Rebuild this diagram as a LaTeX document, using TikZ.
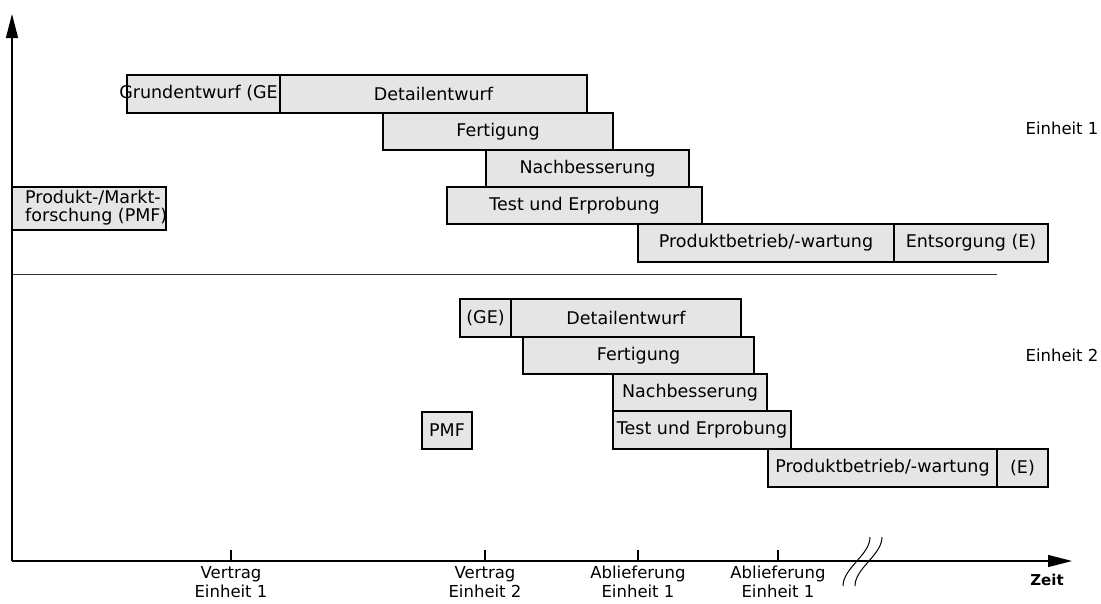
\documentclass[tikz,border=0pt]{standalone}
\usepackage{fontspec}
\setmainfont{DejaVu Sans}
\usetikzlibrary{arrows.meta,calc}
\tikzset{
  gbox/.style={draw=black, line width=1.2pt, fill=gray!20, inner sep=0pt},
  btxt/.style={inner sep=0pt, font=\fontsize{17.5}{18}\selectfont},
  axis/.style={line width=1.2pt, -{Triangle[length=24pt,width=12pt]}},
  tick/.style={line width=1.2pt},
  lbl/.style={inner sep=0pt, align=center, anchor=north, font=\fontsize{16.5}{19}\selectfont},
}
\newcommand\gbox[6]{%
  \node[gbox, minimum width={#4-#2}, minimum height={#5-#3}] (#1) at ({(#2+#4)/2},{(#3+#5)/2}) {};
  \node[btxt] (#1t) at (#1) {#6};}
\begin{document}
\begin{tikzpicture}[x=1pt,y=-1pt]
\useasboundingbox (0,0) rectangle (1101,603);
% Einheit 1
\gbox{ge}{127}{75}{280}{113}{}
\gbox{de}{280}{75}{587}{113}{Detailentwurf}
\gbox{fe}{383}{113}{613}{150}{Fertigung}
\gbox{na}{486}{150}{689}{187}{Nachbesserung}
\gbox{te}{447}{187}{702}{224}{Test und Erprobung}
\gbox{pb}{638}{224}{894}{262}{Produktbetrieb/-wartung}
\gbox{en}{894}{224}{1048}{262}{Entsorgung (E)}
\gbox{pmf}{12}{187}{166}{230}{}
\node[btxt, anchor=east] (get) at (278,93) {Grundentwurf (GE};
\node[btxt, align=left, anchor=west, font=\fontsize{17.5}{18}\selectfont] (pmft) at (25,208) {Produkt-/Markt-\\forschung (PMF)};
\node[btxt, font=\fontsize{16.5}{18}\selectfont] (e1) at (1062,128) {Einheit 1};
% separator
\coordinate (s1) at (12,274);
\coordinate (s2) at (997,274);
\draw[line width=0.8pt, black!80] (s1) -- (s2);
% Einheit 2
\gbox{ge2}{460}{299}{511}{337}{(GE)}
\gbox{de2}{511}{299}{741}{337}{Detailentwurf}
\gbox{fe2}{523}{337}{754}{374}{Fertigung}
\gbox{na2}{613}{374}{767}{411}{Nachbesserung}
\gbox{te2}{613}{411}{791}{449}{Test und Erprobung}
\gbox{pmf2}{422}{412}{472}{449}{PMF}
\gbox{pb2}{768}{449}{997}{487}{Produktbetrieb/-wartung}
\gbox{en2}{997}{449}{1048}{487}{(E)}
\node[btxt, font=\fontsize{16.5}{18}\selectfont] (e2) at (1062,355) {Einheit 2};
% axes
\coordinate (o) at (12,561);
\coordinate (yt) at (12,14);
\coordinate (xt) at (1072,561);
\draw[axis] (o) -- (yt);
\draw[axis] (o) -- (xt);
% ticks and labels
\foreach \n/\x/\t in {t1/231/{Vertrag\\Einheit 1}, t2/485/{Vertrag\\Einheit 2}, t3/638/{Ablieferung\\Einheit 1}, t4/778/{Ablieferung\\Einheit 1}}{
  \coordinate (\n) at (\x,561);
  \draw[tick] (\n) -- ++(0,-11);
  \node[lbl] (\n l) at (\x,566) {\t};
}
% axis break
\coordinate (b1a) at (843,586); \coordinate (b1b) at (870,537);
\coordinate (b2a) at (855,586); \coordinate (b2b) at (882,537);
\draw[line width=1pt] (b1a) .. controls (843,568) and (870,555) .. (b1b);
\draw[line width=1pt] (b2a) .. controls (855,568) and (882,555) .. (b2b);
\node[inner sep=0pt, font=\fontsize{15}{17}\selectfont\bfseries] (zeit) at (1047,580) {Zeit};
\end{tikzpicture}
\end{document}
